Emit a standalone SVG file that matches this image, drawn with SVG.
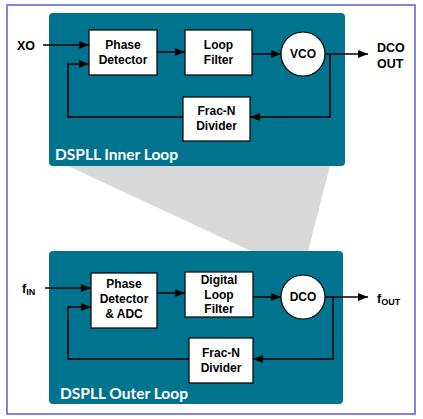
<svg xmlns="http://www.w3.org/2000/svg" width="423" height="419" viewBox="0 0 423 419">
<style>
.loop{fill:#00738f}
.blk{fill:#fff;stroke:#000;stroke-width:1.2}
.t{font-family:"Liberation Sans",Arial,sans-serif;font-weight:bold;font-size:12px;fill:#000;text-anchor:middle}
.lbl{font-family:"Liberation Sans",Arial,sans-serif;font-weight:bold;font-size:12.5px;fill:#000}
.ttl{font-family:Lato,"Open Sans",sans-serif;font-weight:bold;font-size:15px;fill:#fff}
.ln{fill:none;stroke:#000;stroke-width:1.5}
</style>
<defs>
<marker id="ah" viewBox="0 0 10 8" refX="10" refY="4" markerWidth="10" markerHeight="8" markerUnits="userSpaceOnUse" orient="auto">
<path d="M0,0 L10,4 L0,8 z" fill="#000"/>
</marker>
</defs>
<rect x="0" y="0" width="423" height="419" fill="#fff"/>
<rect id="frame" x="7" y="5" width="408" height="409" fill="none" stroke="#5a5ae0" stroke-width="1.5"/>
<polygon id="zoom-wedge" points="68,166 330,166 302,275" fill="#d9d9d9"/>
<g id="inner-loop">
<rect class="loop" x="49" y="13" width="296" height="153" rx="4"/>
<text class="ttl" x="55" y="160" textLength="123" lengthAdjust="spacingAndGlyphs">DSPLL Inner Loop</text>
</g>
<g id="outer-loop">
<rect class="loop" x="49" y="251" width="294" height="153" rx="4"/>
<text class="ttl" x="60" y="399" textLength="128" lengthAdjust="spacingAndGlyphs">DSPLL Outer Loop</text>
</g>
<g id="connectors">
<path class="ln" d="M43,45 H89" marker-end="url(#ah)"/>
<path class="ln" d="M183,117 H68 V64 H89" marker-end="url(#ah)"/>
<path class="ln" d="M157,52 H185" marker-end="url(#ah)"/>
<path class="ln" d="M252,54 H281" marker-end="url(#ah)"/>
<path class="ln" d="M325,54 H368" marker-end="url(#ah)"/>
<path class="ln" d="M330,54 V117 H250" marker-end="url(#ah)"/>
<path class="ln" d="M45,288 H91" marker-end="url(#ah)"/>
<path class="ln" d="M189,359 H68 V307 H91" marker-end="url(#ah)"/>
<path class="ln" d="M157,293 H185" marker-end="url(#ah)"/>
<path class="ln" d="M253,297 H281" marker-end="url(#ah)"/>
<path class="ln" d="M325,297 H368" marker-end="url(#ah)"/>
<path class="ln" d="M333,297 V359 H253" marker-end="url(#ah)"/>
</g>
<g id="xo"><text class="lbl" x="17" y="50">XO</text></g>
<g id="dco-out"><text class="lbl" x="377" y="52">DCO</text><text class="lbl" x="377" y="68">OUT</text></g>
<g id="phase-detector">
<rect class="blk" x="89" y="30" width="68" height="45"/>
<text class="t" x="123" y="49">Phase</text><text class="t" x="123" y="64">Detector</text>
</g>
<g id="loop-filter">
<rect class="blk" x="185" y="30" width="67" height="45"/>
<text class="t" x="218.5" y="49">Loop</text><text class="t" x="218.5" y="64">Filter</text>
</g>
<g id="vco">
<circle class="blk" cx="303" cy="54" r="22"/>
<text class="t" x="303" y="58">VCO</text>
</g>
<g id="frac-n-inner">
<rect class="blk" x="183" y="97" width="67" height="44"/>
<text class="t" x="216.5" y="115">Frac-N</text><text class="t" x="216.5" y="130">Divider</text>
</g>
<g id="fin"><text class="lbl" x="22" y="293" font-size="14">f<tspan font-size="9" dy="2">IN</tspan></text></g>
<g id="fout"><text class="lbl" x="377" y="303" font-size="14">f<tspan font-size="9" dy="2">OUT</tspan></text></g>
<g id="phase-detector-adc">
<rect class="blk" x="91" y="273" width="66" height="55"/>
<text class="t" x="124" y="288">Phase</text><text class="t" x="124" y="303">Detector</text><text class="t" x="124" y="318">&amp; ADC</text>
</g>
<g id="digital-loop-filter">
<rect class="blk" x="185" y="272" width="68" height="45"/>
<text class="t" x="219" y="284">Digital</text><text class="t" x="219" y="299">Loop</text><text class="t" x="219" y="313">Filter</text>
</g>
<g id="dco">
<circle class="blk" cx="303" cy="297" r="22"/>
<text class="t" x="303" y="301" font-size="10">DCO</text>
</g>
<g id="frac-n-outer">
<rect class="blk" x="189" y="338" width="64" height="45"/>
<text class="t" x="221" y="357">Frac-N</text><text class="t" x="221" y="372">Divider</text>
</g>
</svg>
